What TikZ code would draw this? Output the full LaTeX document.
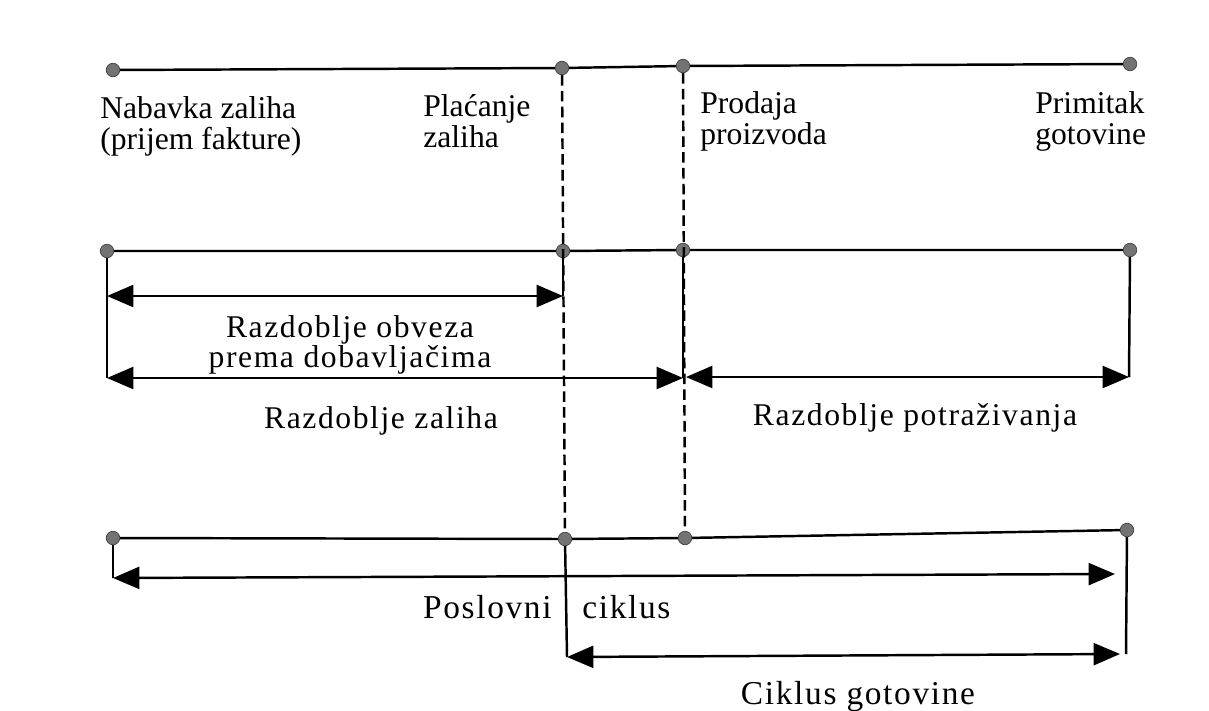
\documentclass[tikz,border=0pt]{standalone}
\usepackage{fontspec}
\setmainfont{Liberation Serif}
\usetikzlibrary{arrows.meta}

\begin{document}
\begin{tikzpicture}[x=0.02cm,y=-0.02cm,
    dot/.style={circle,fill=black!55,draw=black!75,inner sep=0pt,minimum size=0.27cm},
    line/.style={line width=1.4pt},
    span/.style={line width=1.4pt,{Triangle[length=15pt,width=12.5pt]}-{Triangle[length=15pt,width=12.5pt]}},
    guide/.style={line width=1.4pt,dash pattern=on 6pt off 3pt},
    lbl/.style={inner sep=0pt,font=\fontsize{18}{17.5}\selectfont},
    wide/.style={inner sep=0pt,font=\fontsize{18}{17}\selectfont\addfontfeature{LetterSpace=5}},
    low/.style={inner sep=0pt,font=\fontsize{19}{17}\selectfont\addfontfeature{LetterSpace=5}}]
    \useasboundingbox (0,0) rectangle (1209,710);
    % row 1
    \node[dot](a1)at(113,70){};
    \node[dot](a2)at(562,68){};
    \node[dot](a3)at(683,66){};
    \node[dot](a4)at(1130,64){};
    % row 2
    \node[dot](b1)at(107,251){};
    \node[dot](b2)at(563,251){};
    \node[dot](b3)at(683,250){};
    \node[dot](b4)at(1130,250){};
    % row 3
    \node[dot](c1)at(113,538){};
    \node[dot](c2)at(565,539){};
    \node[dot](c3)at(685,538){};
    \node[dot](c4)at(1127,530){};
    % arrow ends
    \coordinate(o1)at(107,296);
    \coordinate(o2)at(563,296);
    \coordinate(z1)at(107,378);
    \coordinate(z2)at(683,378);
    \coordinate(p1)at(686,377);
    \coordinate(p2)at(1129,377);
    \coordinate(k1)at(113,578);
    \coordinate(k2)at(1115,574);
    \coordinate(g1)at(567,657);
    \coordinate(g2)at(1120,654);
    \coordinate(g3)at(1126,654);
    % dashed guides
    \draw[guide](a2)--(c2);
    \draw[guide](a3)--(c3);
    % time lines
    \draw[line](a1)--(a2)--(a3)--(a4);
    \draw[line](b1)--(b2)--(b3)--(b4);
    \draw[line](c1)--(c2)--(c3)--(c4);
    % verticals
    \draw[line](b1)--(z1);
    \draw[line](b2)--(o2);
    \draw[line](b3)--(z2);
    \draw[line](b4)--(p2);
    \draw[line](c1)--(k1);
    \draw[line](c2)--(g1);
    \draw[line](c4)--(g3);
    % periods
    \draw[span](o1)--(o2);
    \draw[span](z1)--(z2);
    \draw[span](p1)--(p2);
    \draw[span](k1)--(k2);
    \draw[span](g1)--(g2);
    % labels
    \node[lbl,anchor=north west,align=left](t1)at(100,96){Nabavka zaliha\\(prijem fakture)};
    \node[lbl,anchor=north west,align=left](t2)at(423,94){Plaćanje\\zaliha};
    \node[lbl,anchor=north west,align=left](t3)at(700,91){Prodaja\\proizvoda};
    \node[lbl,anchor=north west,align=left](t4)at(1035,91){Primitak\\gotovine};
    \node[wide,anchor=north,align=center](t5)at(350,315){Razdoblje obveza\\prema dobavljačima};
    \node[wide,anchor=base](t6)at(381,428){Razdoblje zaliha};
    \node[wide,anchor=base](t7)at(915,425){Razdoblje potraživanja};
    \node[low,anchor=base east](t8)at(552,618){Poslovni};
    \node[low,anchor=base west](t9)at(582,618){ciklus};
    \node[low,anchor=base](t10)at(858,704){Ciklus gotovine};
\end{tikzpicture}
\end{document}
